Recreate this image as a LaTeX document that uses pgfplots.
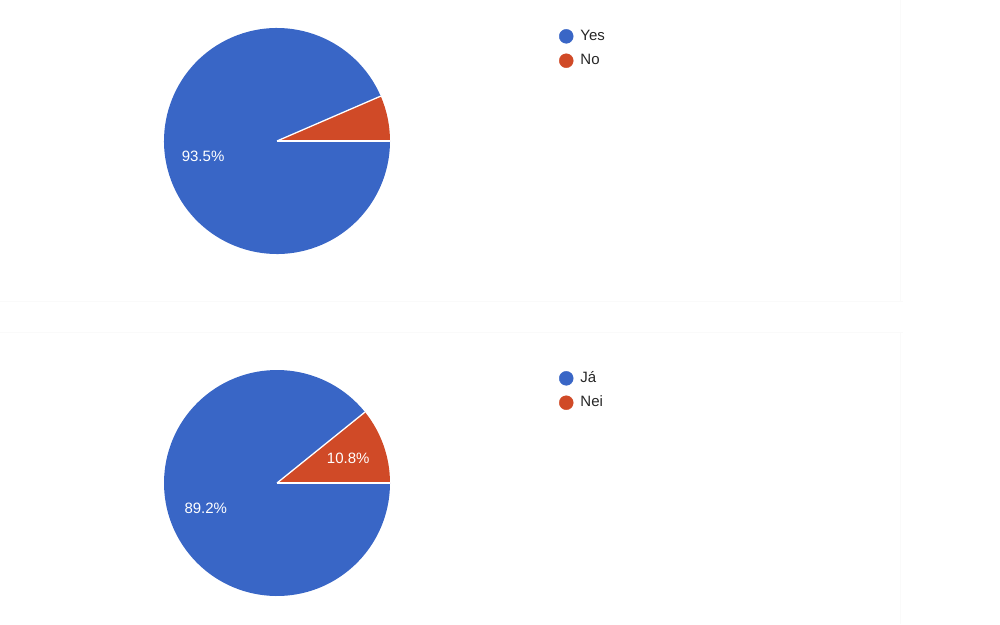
\documentclass[border=0pt]{standalone}
\usepackage{fontspec}
\setmainfont{Liberation Sans}
\usepackage{pgfplots}
\usepackage{pgfplotstable}
\pgfplotsset{compat=1.18}
\definecolor{mBlue}{HTML}{3966C6}
\definecolor{mRed}{HTML}{D04A27}

\pgfplotstableread{
idx value
0 93.5
1 6.5
}\tableA
\pgfplotstableread{
idx value
0 89.2
1 10.8
}\tableB

\pgfplotstablegetelem{1}{value}\of\tableA
\pgfmathsetmacro\angA{3.6*\pgfplotsretval}
\pgfmathsetmacro\midA{(\angA+360)/2}
\pgfplotstablegetelem{1}{value}\of\tableB
\pgfmathsetmacro\angB{3.6*\pgfplotsretval}
\pgfmathsetmacro\midBb{(\angB+360)/2}
\pgfmathsetmacro\midBr{\angB/2}

\pgfplotsset{
  pie/.style={
    hide axis, scale only axis, width=226pt, height=226pt,
    xmin=-1, xmax=1, ymin=-1, ymax=1, clip=false,
    legend style={draw=none, fill=none, inner sep=0pt, outer sep=0pt,
      at={(axis cs:2.496,0.99)}, anchor=north west,
      font=\fontsize{15}{18}\selectfont, text=black!85,
      row sep=10pt, column sep=0pt,
      nodes={inner sep=0pt, text height=11pt, text depth=3pt}},
    legend cell align=left,
    legend image code/.code={\fill (7pt,0pt) circle (7pt); \path (21pt,0pt);},
  }
}

\begin{document}
\begin{tikzpicture}
\path[use as bounding box] (0pt,0pt) rectangle (1000pt,-624pt);
\draw[black!2, line width=1.5pt] (0pt,-301.5pt) -- (903pt,-301.5pt);
\draw[black!2, line width=1.5pt] (0pt,-332.5pt) -- (903pt,-332.5pt);
\draw[black!2, line width=1pt] (900pt,0pt) -- (900pt,-301pt);
\draw[black!2, line width=1pt] (900pt,-333pt) -- (900pt,-624pt);

\begin{axis}[pie, at={(277pt,-141pt)}, anchor=center]
  \addlegendimage{mBlue}
  \addlegendentry{Yes}
  \addlegendimage{mRed}
  \addlegendentry{No}
  \fill[mBlue] (axis cs:0,0) -- ++(\angA:113pt) arc[start angle=\angA, end angle=360, radius=113pt] -- cycle;
  \fill[mRed] (axis cs:0,0) -- ++(0:113pt) arc[start angle=0, end angle=\angA, radius=113pt] -- cycle;
  \draw[white, line width=1.3pt] (axis cs:0,0) -- ++(0:113pt);
  \draw[white, line width=1.3pt] (axis cs:0,0) -- ++(\angA:113pt);
  \path (axis cs:0,0) ++(\midA:75.5pt) node[text=white, font=\fontsize{15}{18}\selectfont] {93.5\%};
\end{axis}

\begin{axis}[pie, at={(277pt,-483pt)}, anchor=center]
  \addlegendimage{mBlue}
  \addlegendentry{Já}
  \addlegendimage{mRed}
  \addlegendentry{Nei}
  \fill[mBlue] (axis cs:0,0) -- ++(\angB:113pt) arc[start angle=\angB, end angle=360, radius=113pt] -- cycle;
  \fill[mRed] (axis cs:0,0) -- ++(0:113pt) arc[start angle=0, end angle=\angB, radius=113pt] -- cycle;
  \draw[white, line width=1.3pt] (axis cs:0,0) -- ++(0:113pt);
  \draw[white, line width=1.3pt] (axis cs:0,0) -- ++(\angB:113pt);
  \path (axis cs:0,0) ++(\midBb:75.5pt) node[text=white, font=\fontsize{15}{18}\selectfont] {89.2\%};
  \path (axis cs:0,0) ++(\midBr:75.5pt) node[text=white, font=\fontsize{15}{18}\selectfont] {10.8\%};
\end{axis}
\end{tikzpicture}
\end{document}
